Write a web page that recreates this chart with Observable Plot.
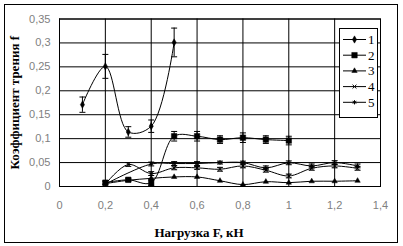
<!DOCTYPE html>
<html>
<head>
<meta charset="utf-8">
<script src="https://cdn.jsdelivr.net/npm/d3@7"></script>
<script src="https://cdn.jsdelivr.net/npm/@observablehq/plot@0.6"></script>
<style>
  body { margin: 0; background: white; }
  #wrap { position: relative; width: 403px; height: 246px; }
  #border { position: absolute; left: 4px; top: 4px; width: 394px; height: 239px; border: 1px solid black; box-sizing: border-box; pointer-events: none; }
  #legend { position: absolute; left: 339px; top: 28px; width: 39px; height: 90px; border: 1px solid black; box-sizing: border-box; background: white; }
  g[aria-label$="tick label"] { color: #808080; fill: #808080; }
</style>
</head>
<body>
<div id="wrap"><div id="border"></div></div>
<script>
// ---- data ----
const seriesNames = ["1", "2", "3", "4", "5"];

const x1 = [0.1, 0.2, 0.3, 0.4, 0.5];
const f1 = [0.171, 0.251, 0.114, 0.126, 0.301];
const e1 = [0.016, 0.025, 0.011, 0.013, 0.03];

const x2 = [0.2, 0.3, 0.4, 0.5, 0.6, 0.7, 0.8, 0.9, 1.0];
const f2 = [0.008, 0.014, 0.008, 0.105, 0.105, 0.098, 0.102, 0.098, 0.096];
const e2 = [0.003, 0.003, 0.006, 0.01, 0.01, 0.008, 0.01, 0.008, 0.009];

const x3 = [0.2, 0.3, 0.4, 0.5, 0.6, 0.7, 0.8, 0.9, 1.0, 1.1, 1.2, 1.3];
const f3 = [0.006, 0.013, 0.017, 0.02, 0.02, 0.012, 0.004, 0.01, 0.008, 0.011, 0.011, 0.012];

const x4 = [0.2, 0.3, 0.4, 0.5, 0.6, 0.7, 0.8, 0.9, 1.0, 1.1, 1.2, 1.3];
const f4 = [0.005, 0.046, 0.027, 0.039, 0.039, 0.036, 0.043, 0.034, 0.022, 0.038, 0.043, 0.038];
const e4 = [0, 0.004, 0.004, 0.004, 0.003, 0.004, 0.004, 0.004, 0.004, 0.004, 0.004, 0.004];

const x5 = [0.2, 0.4, 0.5, 0.6, 0.7, 0.8, 0.9, 1.0, 1.1, 1.2, 1.3];
const f5 = [0.005, 0.047, 0.048, 0.048, 0.05, 0.05, 0.039, 0.0495, 0.043, 0.05, 0.043];
const e5 = [0, 0.004, 0.004, 0.004, 0.003, 0.003, 0.004, 0.004, 0.004, 0.004, 0.004];

const xTicks = [0, 0.2, 0.4, 0.6, 0.8, 1.0, 1.2, 1.4];
const yTicks = [0, 0.05, 0.1, 0.15, 0.2, 0.25, 0.3, 0.35];
const xLabel = "Нагрузка F, кН";
const yLabel = "Коэффициент трения f";

// ---- build tables ----
function rows(xs, ys, es, s) {
  return xs.map((x, i) => ({x, y: ys[i], e: es ? es[i] : 0, s}));
}
const d1 = rows(x1, f1, e1, "1");
const d2 = rows(x2, f2, e2, "2");
const d3r = rows(x3, f3, null, "3");
const d4 = rows(x4, f4, e4, "4");
const d5 = rows(x5, f5, e5, "5");
const errData = [...d1, ...d2, ...d4, ...d5].filter(d => d.e > 0);

const fmt = d => String(d).replace(".", ",");
const cap = {draw(ctx, size) { const w = Math.sqrt(size / Math.PI); ctx.moveTo(-w, 0); ctx.lineTo(w, 0); }};

const symbols = {"1": "diamond", "2": "square", "3": "triangle", "4": "times", "5": "asterisk"};
const sizes = {"1": 2.2, "2": 3.1, "3": 2.0, "4": 1.9, "5": 2.0};

const lineMarks = [d1, d2, d3r, d4, d5].map(d =>
  Plot.line(d, {x: "x", y: "y", curve: "catmull-rom", stroke: "black", strokeWidth: 1}));
const dotMarks = [d1, d2, d3r, d4, d5].map(d => {
  const s = d[0].s;
  const filled = s === "1" || s === "2" || s === "3";
  return Plot.dot(d, {x: "x", y: "y", symbol: symbols[s], r: sizes[s],
    fill: filled ? "black" : "none", stroke: "black", strokeWidth: filled ? 0.5 : 1});
});

const chart = Plot.plot({
  width: 403,
  height: 246,
  marginLeft: 59,
  marginRight: 23,
  marginTop: 18.5,
  marginBottom: 60,
  style: {fontFamily: "'Liberation Sans', Arial, sans-serif", fontSize: "11px", background: "transparent"},
  x: {domain: [0, 1.4]},
  y: {domain: [0, 0.35]},
  marks: [
    Plot.gridY(yTicks, {stroke: "black", strokeOpacity: 1}),
    Plot.gridX(xTicks, {stroke: "black", strokeOpacity: 1}),
    Plot.frame({stroke: "black"}),
    Plot.axisY(yTicks, {tickSize: 0, tickPadding: 9, tickFormat: fmt, label: null}),
    Plot.axisX(xTicks, {tickSize: 0, tickPadding: 15, tickFormat: fmt, label: null}),
    ...lineMarks,
    Plot.ruleX(errData, {x: "x", y1: d => d.y - d.e, y2: d => d.y + d.e, stroke: "black", strokeWidth: 1}),
    Plot.dot(errData, {x: "x", y: d => d.y - d.e, symbol: cap, r: 3, stroke: "black", strokeWidth: 1}),
    Plot.dot(errData, {x: "x", y: d => d.y + d.e, symbol: cap, r: 3, stroke: "black", strokeWidth: 1}),
    ...dotMarks,
    Plot.text([yLabel], {frameAnchor: "left", textAnchor: "middle", lineAnchor: "middle", dx: -45, rotate: -90, text: d => d,
      fontFamily: "'Liberation Serif', 'Times New Roman', serif", fontWeight: "bold", fontSize: 13, fill: "black"}),
    Plot.text([xLabel], {frameAnchor: "bottom", textAnchor: "middle", lineAnchor: "middle", dy: 46, dx: -21, text: d => d,
      fontFamily: "'Liberation Serif', 'Times New Roman', serif", fontWeight: "bold", fontSize: 13, fill: "black"})
  ]
});

const wrap = document.getElementById("wrap");
wrap.insertBefore(chart, wrap.firstChild);

// ---- legend ----
const legend = document.createElement("div");
legend.id = "legend";
const lsvg = d3.create("svg").attr("width", 37).attr("height", 88).style("display", "block");
const typeMap = {"1": d3.symbolDiamond, "2": d3.symbolSquare, "3": d3.symbolTriangle, "4": d3.symbolTimes, "5": d3.symbolAsterisk};
seriesNames.forEach((s, i) => {
  const g = lsvg.append("g").attr("transform", `translate(0,${10.5 + i * 15.7})`);
  g.append("line").attr("x1", 3).attr("x2", 26).attr("stroke", "black").attr("stroke-width", 1);
  const filled = s === "1" || s === "2" || s === "3";
  g.append("path").attr("transform", "translate(14.5,0)")
    .attr("d", d3.symbol(typeMap[s], Math.PI * sizes[s] * sizes[s])())
    .attr("fill", filled ? "black" : "none").attr("stroke", "black").attr("stroke-width", filled ? 0.5 : 1);
  g.append("text").attr("x", 28).attr("y", 4.5).text(s)
    .attr("font-family", "'Liberation Serif', 'Times New Roman', serif").attr("font-size", 13).attr("fill", "black");
});
legend.appendChild(lsvg.node());
wrap.appendChild(legend);
</script>
</body>
</html>
